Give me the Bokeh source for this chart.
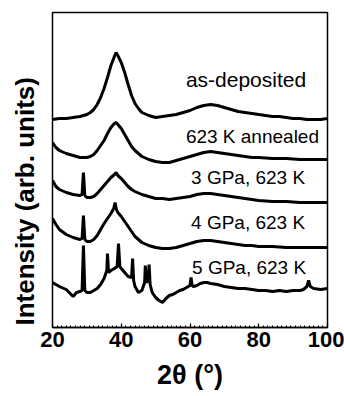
from bokeh.plotting import figure
from bokeh.models import Label, Range1d, SingleIntervalTicker, Title, FixedTicker
from bokeh.embed import file_html
from bokeh.resources import INLINE

# 2-theta (degrees) and intensity (arb. units, stacked offsets included)
tt_asdep = [20,22,24,26,28,30,31,32,33,34,35,36,37,38,38.5,39,40,41,42,43,44,45,46,48,50,52,54,56,58,60,62,64,66,68,70,72,74,76,78,80,82,84,86,88,90,92,94,96,98,100]
i_asdep = [208,209,209,210,211,213,215,218,223,230,239,250,262,271,275,272,265,255,243,232,224,219,215,212,210,211,212,213,215,217,220,222,223,222,220,218,216,215,214,213,212,211,211,210,209,209,208,208,208,209]

tt_ann = [20,21,22,24,26,28,30,31,32,33,34,35,36,37,38,38.5,39,40,41,42,43,44,45,46,48,50,52,54,56,58,60,62,64,66,68,70,72,74,76,78,80,84,88,92,96,100]
i_ann = [185,180,177,174,172,170,170,171,173,177,182,187,194,200,204,205,203,199,193,187,181,177,174,171,168,166,165,165,167,169,171,173,175,176,175,174,173,172,171,170,170,169,169,168,168,168]

tt_3gpa = [20,21,22,24,26,28,28.6,29,29.4,30,31,32,33,34,35,36,37,38,38.5,39,40,41,42,43,44,46,48,50,52,54,56,58,60,62,64,66,68,70,72,74,76,78,80,84,88,92,96,100]
i_3gpa = [147,141,138,135,133,132,133,155,132,130,130,131,134,138,142,146,150,153,155,152,149,145,141,138,136,133,131,129,129,128,129,130,131,133,134,134,133,132,131,130,129,128,127,126,126,125,125,125]

tt_4gpa = [20,21,22,24,26,28,28.6,29,29.4,30,31,32,33,34,35,36,37,37.8,38.2,38.6,39,40,41,42,43,44,45,46,48,50,52,54,56,58,60,62,64,66,68,70,72,74,76,78,80,84,88,92,96,100]
i_4gpa = [109,103,98,93,90,88,89,112,88,86,86,88,92,98,104,109,114,119,125,118,115,111,106,101,96,91,88,85,82,80,79,79,80,82,84,86,87,87,86,85,84,83,82,82,81,81,80,80,80,80]

tt_5gpa = [20,21,22,24,26,27,28,28.6,29,29.4,30,31,32,33,34,35,35.8,36,36.3,37,38,38.8,39.2,39.6,40,41,42,43,43.3,43.6,44,45,46,46.8,47,47.3,47.8,48.1,48.4,49,50,51,52,53,54,55,56,57,58,59,60,60.3,60.6,61,62,63,64,65,66,68,70,72,74,76,78,80,82,84,86,88,90,92,93,94,94.5,95,96,98,100]
i_5gpa = [45,43,41,38,31,35,36,37,82,37,35,35,37,39,43,49,57,74,55,57,59,61,84,61,59,55,51,50,69,47,41,35,37,45,62,45,47,63,43,35,30,27,25,29,32,33,35,37,38,40,42,50,42,41,42,44,45,45,44,43,41,40,39,39,38,37,37,36,37,36,37,37,38,41,47,41,39,38,39]

names = ["as-deposited", "623 K annealed", "3 GPa, 623 K", "4 GPa, 623 K", "5 GPa, 623 K"]
name_x = [58.8, 58.8, 60.3, 60.3, 60.6]
name_y = [248, 191, 150, 105, 60]
name_size = ["21px", "19px", "19px", "19px", "19px"]

p = figure(width=344, height=396, output_backend="svg", toolbar_location=None,
           x_range=Range1d(20, 100), y_range=Range1d(0, 315),
           min_border_left=52, min_border_right=17, min_border_top=12, min_border_bottom=69)
p.background_fill_color = "white"
p.border_fill_color = "white"
p.grid.visible = False
p.outline_line_color = "black"
p.outline_line_width = 1.5

# invisible left axis used only as a small spacer between the frame and the title
ya = p.yaxis[0]
ya.ticker = FixedTicker(ticks=[])
ya.axis_line_color = None
ya.major_tick_line_color = None
ya.minor_tick_line_color = None
ya.major_tick_in = 0
ya.major_tick_out = 0
ya.minor_tick_in = 0
ya.minor_tick_out = 0
ya.axis_label = " "
ya.axis_label_text_font_size = "4px"
ya.axis_label_standoff = 0

for xs, ys in [(tt_asdep, i_asdep), (tt_ann, i_ann), (tt_3gpa, i_3gpa), (tt_4gpa, i_4gpa), (tt_5gpa, i_5gpa)]:
    p.line(xs, ys, line_color="black", line_width=3)

ax = p.xaxis[0]
ax.ticker = SingleIntervalTicker(interval=20, num_minor_ticks=15)
ax.axis_line_width = 1.5
ax.major_tick_in = 4
ax.major_tick_out = 0
ax.minor_tick_in = 2
ax.minor_tick_out = 0
ax.major_tick_line_width = 1.2
ax.minor_tick_line_width = 1
ax.major_label_text_font = "Liberation Sans"
ax.major_label_text_font_style = "bold"
ax.major_label_text_font_size = "22px"
ax.major_label_text_color = "black"
ax.major_label_standoff = 4
ax.axis_label = "2\u03b8 (\u00b0)"
ax.axis_label_text_font = "Liberation Sans"
ax.axis_label_text_font_style = "bold"
ax.axis_label_text_font_size = "27px"
ax.axis_label_text_color = "black"
ax.axis_label_standoff = 10

for t, x, y, s in zip(names, name_x, name_y, name_size):
    p.add_layout(Label(x=x, y=y, text=t, text_font="Liberation Sans", text_font_size=s,
                       text_color="black", text_align="left", text_baseline="alphabetic"))

p.add_layout(Title(text="Intensity (arb. units)", align="left", offset=2,
                   text_font="Liberation Sans", text_font_style="bold", text_font_size="26px",
                   text_color="black"), "left")

open("out.html", "w").write(file_html(p, INLINE))
